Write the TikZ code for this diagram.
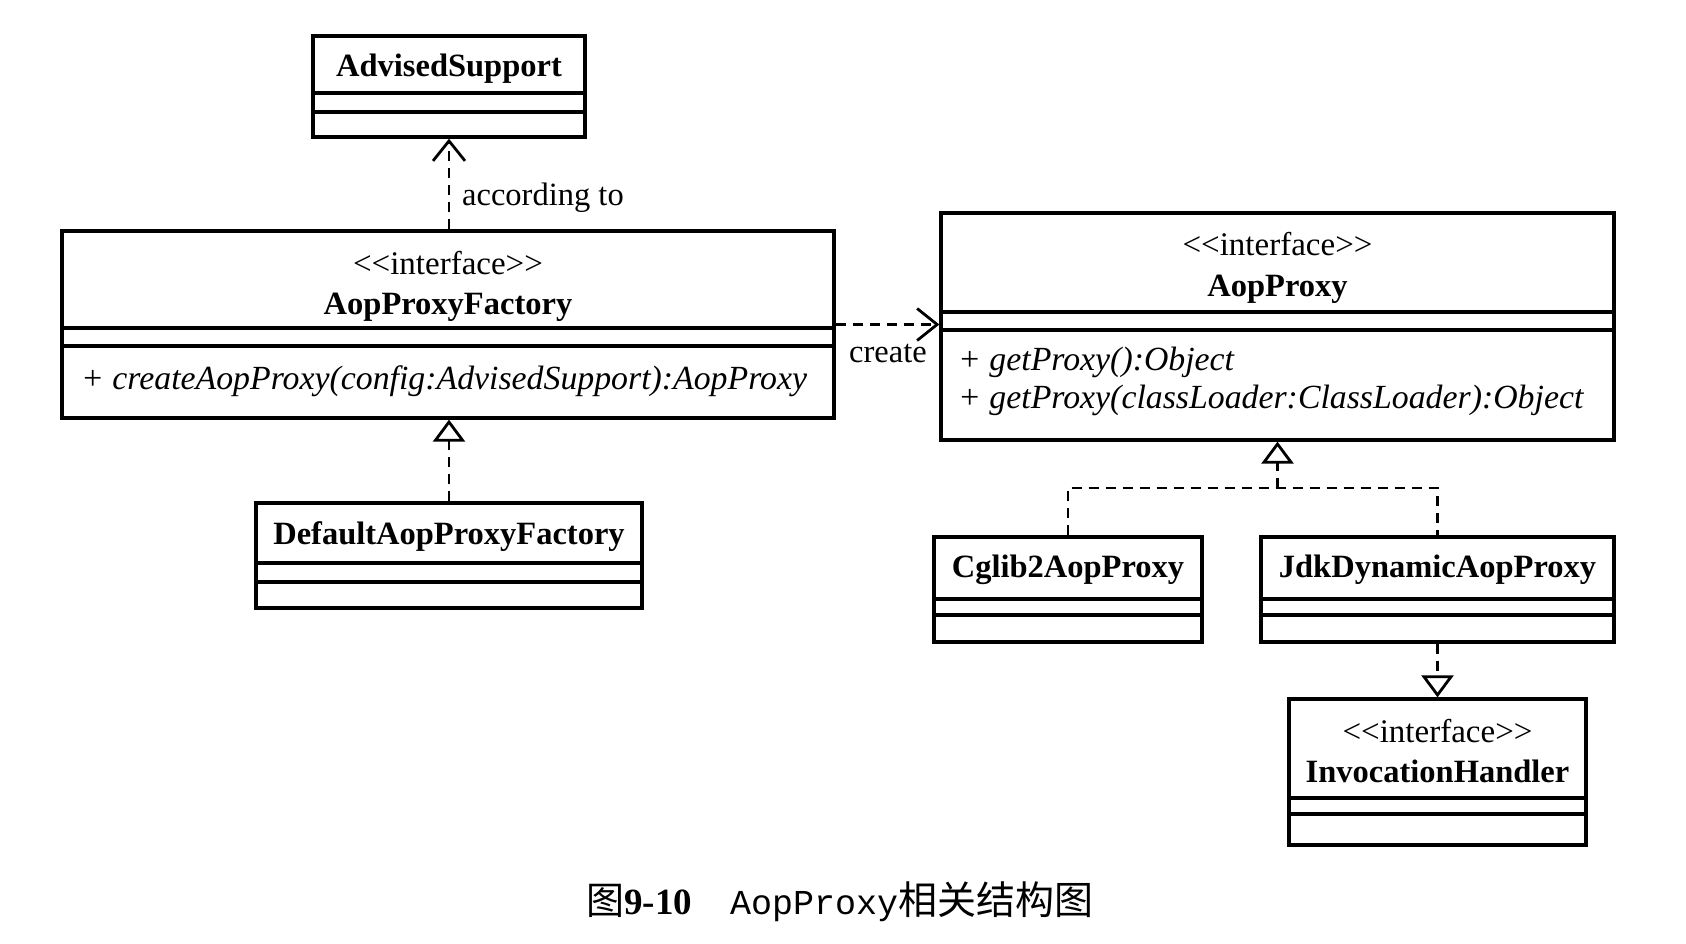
\documentclass[tikz,border=0pt]{standalone}
\usepackage{fontspec}
\setmainfont{Liberation Serif}
\newfontfamily\cjk{Noto Sans CJK SC}
\newfontfamily\monof{Liberation Mono}
\usetikzlibrary{arrows.meta}
\tikzset{
  cls/.style={draw, line width=3.3pt, inner sep=0pt},
  sepl/.style={line width=3.1pt},
  dep/.style={line width=2.8pt, dash pattern=on 10pt off 7pt},
  vtip/.style={-{Straight Barb[length=20pt,width=32pt,line width=2.8pt]}},
  ttip/.style={-{Triangle[open,length=22pt,width=32pt,line width=2.8pt,fill=white]}},
  nm/.style={font=\fontsize{32.5}{38}\selectfont\bfseries, inner sep=0pt, anchor=base},
  st/.style={font=\fontsize{33}{38}\selectfont, inner sep=0pt, anchor=base},
  mt/.style={font=\fontsize{33.8}{38}\selectfont\itshape, inner sep=0pt, anchor=base west},
  lb/.style={font=\fontsize{32.5}{38}\selectfont, inner sep=0pt},
}
\newcommand{\stereo}{<\kern0pt<interface>\kern0pt>}
\begin{document}
\begin{tikzpicture}[x=1pt,y=-1pt]
\fill[white] (0,0) rectangle (1686,944);
\useasboundingbox (0,0) rectangle (1686,944);

% AdvisedSupport
\node[cls, minimum width=272pt, minimum height=101pt] (adv) at (449,86.5) {};
\node[nm] (advn) at (449,77) {AdvisedSupport};
\draw[sepl] (adv.west |- 0,93) -- (adv.east |- 0,93);
\draw[sepl] (adv.west |- 0,112) -- (adv.east |- 0,112);

% AopProxyFactory
\node[cls, minimum width=772pt, minimum height=187pt] (apf) at (448,324.5) {};
\node[st] (apfs) at (448,274) {\stereo};
\node[nm] (apfn) at (448,314) {AopProxyFactory};
\draw[sepl] (apf.west |- 0,328) -- (apf.east |- 0,328);
\draw[sepl] (apf.west |- 0,346) -- (apf.east |- 0,346);
\node[mt] (apfm) at (81,389) {+ createAopProxy(config:AdvisedSupport):AopProxy};

% DefaultAopProxyFactory
\node[cls, minimum width=386pt, minimum height=105pt] (dflt) at (449,555.5) {};
\node[nm] (dfltn) at (449,544) {DefaultAopProxyFactory};
\draw[sepl] (dflt.west |- 0,563) -- (dflt.east |- 0,563);
\draw[sepl] (dflt.west |- 0,582) -- (dflt.east |- 0,582);

% AopProxy
\node[cls, minimum width=673pt, minimum height=227pt] (aop) at (1277.5,326.5) {};
\node[st] (aops) at (1277.5,255) {\stereo};
\node[nm] (aopn) at (1277.5,296) {AopProxy};
\draw[sepl] (aop.west |- 0,312) -- (aop.east |- 0,312);
\draw[sepl] (aop.west |- 0,330) -- (aop.east |- 0,330);
\node[mt] (aopm1) at (958,370) {+ getProxy():Object};
\node[mt] (aopm2) at (958,408) {+ getProxy(classLoader:ClassLoader):Object};

% Cglib2AopProxy
\node[cls, minimum width=268pt, minimum height=105pt] (cglib) at (1068,589.5) {};
\node[nm] (cglibn) at (1068,577) {Cglib2AopProxy};
\draw[sepl] (cglib.west |- 0,599) -- (cglib.east |- 0,599);
\draw[sepl] (cglib.west |- 0,615) -- (cglib.east |- 0,615);

% JdkDynamicAopProxy
\node[cls, minimum width=353pt, minimum height=105pt] (jdk) at (1437.5,589.5) {};
\node[nm] (jdkn) at (1437.5,577) {JdkDynamicAopProxy};
\draw[sepl] (jdk.west |- 0,599) -- (jdk.east |- 0,599);
\draw[sepl] (jdk.west |- 0,615) -- (jdk.east |- 0,615);

% InvocationHandler
\node[cls, minimum width=297pt, minimum height=146pt] (inv) at (1437.5,772) {};
\node[st] (invs) at (1437.5,742) {\stereo};
\node[nm] (invn) at (1437.5,782) {InvocationHandler};
\draw[sepl] (inv.west |- 0,798) -- (inv.east |- 0,798);
\draw[sepl] (inv.west |- 0,814) -- (inv.east |- 0,814);

% connectors
\draw[dep, vtip] (apf.north -| adv.south) -- (adv.south);
\node[lb, anchor=base west] (acc) at (462,206) {according to};

\draw[dep, ttip] (dflt.north) -- (dflt.north |- apf.south);

\draw[dep, vtip] (apf.east) -- (apf.east -| aop.west);
\node[lb, anchor=base] (cre) at (888,362) {create};

\coordinate (br) at (1277.5,488);
\draw[dep] (cglib.north) |- (br) -| (jdk.north);
\draw[dep, ttip] (br) -- (aop.south);

\draw[dep, ttip] (jdk.south) -- (inv.north);

% caption
\node[inner sep=0pt, anchor=base west] (cap) at (586,914)
  {{\cjk\fontsize{38}{40}\selectfont 图}{\fontsize{37}{40}\selectfont\bfseries 9-10}\hspace{38pt}{\monof\fontsize{35}{40}\selectfont AopProxy}{\cjk\fontsize{39}{40}\selectfont 相关结构图}};
\end{tikzpicture}
\end{document}
